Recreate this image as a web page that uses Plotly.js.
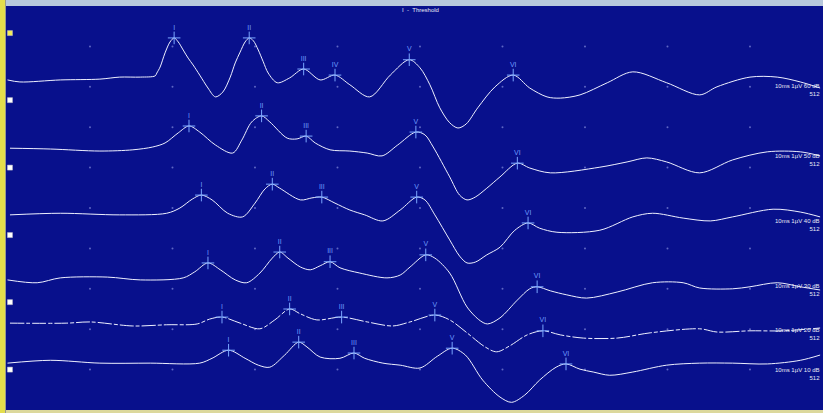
<!DOCTYPE html>
<html>
<head>
<meta charset="utf-8">
<script src="https://cdn.plot.ly/plotly-3.0.1.min.js"></script>
<style>html,body{margin:0;padding:0;background:#b8c8dc;}#chart{width:823px;height:413px;}</style>
</head>
<body>
<div id="chart"></div>
<script>
// ---- data (time in ms, amplitude in µV-like divisions relative to each trace baseline) ----
const levels = ['60', '50', '40', '30', '20', '10'];
const baselines = [8.17, 6.46, 4.85, 3.22, 2.13, 1.16];
const chanSlots = [9.33, 7.67, 6.0, 4.33, 2.67, 1.0];

const t60 = [0,0.15,0.64,1.12,1.36,1.61,1.79,1.81,1.85,1.91,1.97,2.02,2.07,2.13,2.19,2.25,2.33,2.43,2.52,2.61,2.70,2.76,2.82,2.88,2.93,2.98,3.04,3.10,3.16,3.27,3.42,3.59,3.79,3.97,4.15,4.39,4.64,4.87,5.00,5.12,5.24,5.36,5.46,5.56,5.70,5.91,6.13,6.33,6.54,6.70,6.94,7.27,7.58,7.99,8.39,8.60,9.00,9.33,9.61,9.85];
const a60 = [0,-0.05,0,0.02,0.07,0.07,0.10,0.17,0.32,0.67,0.94,1.04,0.94,0.74,0.54,0.37,0.12,-0.20,-0.42,-0.30,0.07,0.42,0.69,0.94,1.04,0.97,0.74,0.45,0.17,-0.07,0.05,0.27,0,0.12,-0.12,-0.42,0.12,0.50,0.30,-0.12,-0.69,-1.06,-1.19,-1.09,-0.69,-0.17,0.12,-0.20,-0.42,-0.45,-0.37,-0.07,0.20,-0.07,-0.37,-0.17,0.07,0.07,-0.05,-0.20];

const t50 = [0.03,0.52,1.12,1.52,1.76,1.91,2.07,2.20,2.33,2.52,2.73,2.84,2.96,3.08,3.18,3.39,3.51,3.62,3.73,3.91,4.15,4.36,4.54,4.73,4.95,5.06,5.16,5.36,5.48,5.57,5.67,5.81,5.97,6.18,6.33,6.58,7.18,7.51,7.75,7.99,8.39,8.79,9.21,9.61,9.85];
const a50 = [0.02,0,-0.05,-0.02,0.05,0.15,0.40,0.57,0.42,0.10,-0.10,0.22,0.67,0.82,0.67,0.27,0.25,0.32,0.15,-0.02,-0.05,-0.10,-0.17,0.10,0.42,0.35,0.05,-0.69,-1.14,-1.26,-1.19,-0.97,-0.69,-0.35,-0.47,-0.59,-0.45,-0.32,-0.22,-0.32,-0.59,-0.27,-0.07,-0.07,-0.17];

const t40 = [0.03,0.64,1.36,1.93,2.09,2.24,2.35,2.48,2.67,2.85,3.00,3.12,3.21,3.30,3.55,3.69,3.81,3.97,4.15,4.33,4.55,4.76,4.96,5.06,5.18,5.36,5.48,5.57,5.67,5.81,5.97,6.15,6.31,6.45,6.66,7.18,7.58,7.82,8.19,8.52,8.79,9.28,9.61,9.85];
const a40 = [-0.02,0.02,-0.02,0.02,0.15,0.37,0.47,0.35,0.02,-0.07,0.27,0.62,0.74,0.64,0.35,0.40,0.42,0.27,0.10,-0.02,-0.17,0.10,0.42,0.35,-0.02,-0.64,-1.04,-1.21,-1.19,-1.01,-0.82,-0.40,-0.22,-0.35,-0.45,-0.40,-0.07,0.02,-0.10,-0.17,-0.07,0.12,0.05,-0.07];

const t30 = [0,0.36,0.64,1.21,1.61,2.13,2.27,2.43,2.58,2.76,2.90,3.06,3.21,3.30,3.40,3.55,3.67,3.79,3.91,4.03,4.27,4.60,4.76,4.88,5.07,5.18,5.36,5.57,5.73,5.82,5.97,6.18,6.33,6.42,6.58,6.78,7.02,7.39,7.82,8.19,8.39,8.79,9.00,9.33,9.61,9.85];
const a30 = [0,-0.07,0.05,0.07,0,0.05,0.20,0.42,0.25,0,-0.07,0.17,0.54,0.69,0.54,0.32,0.25,0.35,0.45,0.30,0.17,0.05,0.12,0.32,0.62,0.54,0.17,-0.67,-1.01,-1.09,-0.94,-0.50,-0.22,-0.17,-0.27,-0.37,-0.45,-0.30,-0.07,-0.07,-0.20,-0.22,-0.17,-0.07,-0.17,-0.25];

const t20 = [0.03,0.72,1.00,1.52,1.93,2.30,2.45,2.60,2.82,3.06,3.24,3.42,3.55,3.75,4.05,4.36,4.67,4.88,5.18,5.36,5.57,5.79,5.93,6.09,6.30,6.49,6.70,6.98,7.39,7.79,8.39,8.60,9.00,9.40,9.85];
const a20 = [0.02,0.02,0.05,-0.05,-0.02,0,0.12,0.17,0.02,-0.12,0.10,0.37,0.25,0.10,0.17,0.05,-0.05,0.05,0.22,0.10,-0.22,-0.57,-0.69,-0.54,-0.27,-0.17,-0.27,-0.35,-0.35,-0.22,-0.12,-0.20,-0.17,-0.17,-0.10];

const t10 = [0,0.52,1.12,1.73,2.33,2.48,2.68,2.88,3.04,3.18,3.36,3.53,3.63,3.79,4.03,4.20,4.33,4.55,4.76,5.00,5.21,5.39,5.55,5.76,5.97,6.11,6.27,6.45,6.65,6.77,6.94,7.10,7.30,7.58,7.99,8.39,8.79,9.21,9.61,9.85];
const a10 = [0,0.07,0,0,0,0.12,0.32,0.12,-0.05,-0.10,0.20,0.52,0.40,0.15,0.12,0.25,0.12,0,-0.05,-0.12,0.17,0.37,0.20,-0.42,-0.84,-0.97,-0.79,-0.42,-0.10,-0.02,-0.15,-0.22,-0.30,-0.22,-0.05,0,0,-0.02,0.07,0.20];

// peak markers (latency ms, amplitude)
const peakLabels60 = ['I','II','III','IV','V','VI'];
const peakT60 = [2.02,2.93,3.59,3.97,4.87,6.13];
const peakA60 = [1.04,1.04,0.27,0.12,0.50,0.12];
const peakLabels = ['I','II','III','V','VI'];
const peakT50 = [2.20,3.08,3.62,4.95,6.18];
const peakA50 = [0.57,0.82,0.32,0.42,-0.35];
const peakT40 = [2.35,3.21,3.81,4.96,6.31];
const peakA40 = [0.47,0.74,0.42,0.42,-0.22];
const peakT30 = [2.43,3.30,3.91,5.07,6.42];
const peakA30 = [0.42,0.69,0.45,0.62,-0.17];
const peakT20 = [2.60,3.42,4.05,5.18,6.49];
const peakA20 = [0.17,0.37,0.17,0.22,-0.17];
const peakT10 = [2.68,3.53,4.20,5.39,6.77];
const peakA10 = [0.32,0.52,0.25,0.37,-0.02];

const gridX = [1,2,3,4,5,6,7,8,9];
const gridY = [1,2,3,4,5,6,7,8,9];

// ---- build ----
const waves = [[t60,a60],[t50,a50],[t40,a40],[t30,a30],[t20,a20],[t10,a10]];
const peaks = [[peakT60,peakA60,peakLabels60],[peakT50,peakA50,peakLabels],[peakT40,peakA40,peakLabels],
               [peakT30,peakA30,peakLabels],[peakT20,peakA20,peakLabels],[peakT10,peakA10,peakLabels]];
const traces = [];

// grid dots
const gx = [], gy = [];
gridX.forEach(x => gridY.forEach(y => { gx.push(x); gy.push(y); }));
traces.push({x: gx, y: gy, mode: 'markers', type: 'scatter', hoverinfo: 'skip',
  marker: {size: 2, color: '#5e66c4'}});

waves.forEach((w, i) => {
  traces.push({
    x: w[0], y: w[1].map(v => v + baselines[i]), type: 'scatter', mode: 'lines',
    line: {color: '#eef0ff', width: 1, shape: 'spline', smoothing: 0.9,
           dash: i === 4 ? '14px,2px,4px,2px' : 'solid'},
    hoverinfo: 'skip'
  });
});

peaks.forEach((p, i) => {
  traces.push({
    x: p[0], y: p[1].map(v => v + baselines[i]), type: 'scatter', mode: 'markers+text',
    text: p[2], textposition: 'top center',
    textfont: {family: 'Liberation Sans, Arial', size: 7, color: '#6e9cff'},
    marker: {symbol: 'cross-thin-open', size: 9, color: '#7aa6ff', line: {color: '#7aa6ff', width: 1}},
    hoverinfo: 'skip'
  });
});

// channel squares on the left
traces.push({
  x: chanSlots.map(() => 0.03), y: chanSlots, type: 'scatter', mode: 'markers',
  marker: {symbol: 'square', size: 5, color: chanSlots.map((_, i) => i === 0 ? '#f2ec5a' : '#ffffff'),
           line: {color: '#c8c8c8', width: 0.5}},
  hoverinfo: 'skip'
});

const annotations = levels.map((lv, i) => ({
  xref: 'paper', yref: 'y', x: 1, y: baselines[i] - 0.26, xanchor: 'right', yanchor: 'middle',
  xshift: -1, align: 'right', showarrow: false,
  text: '10ms 1µV ' + lv + ' dB<br>512',
  font: {family: 'Liberation Sans, Arial', size: 6, color: '#e6e8f4'}
}));
annotations.push({
  xref: 'paper', yref: 'paper', x: 0.482, y: 0.99, xanchor: 'left', yanchor: 'middle',
  showarrow: false, text: 'I  -  Threshold',
  font: {family: 'Liberation Sans, Arial', size: 6, color: '#e6e8f4'}
});

const px = 1 / 817, py = 1 / 404;
const layout = {
  width: 823, height: 413,
  margin: {l: 6, r: 0, t: 6, b: 3, pad: 0},
  paper_bgcolor: '#b8c8dc', plot_bgcolor: '#08108c',
  showlegend: false,
  xaxis: {range: [-0.018, 9.885], showgrid: false, zeroline: false, showticklabels: false,
          ticks: '', showline: false, fixedrange: true},
  yaxis: {range: [0, 10], showgrid: false, zeroline: false, showticklabels: false,
          ticks: '', showline: false, fixedrange: true},
  annotations: annotations,
  shapes: [
    {type: 'rect', xref: 'paper', yref: 'paper', x0: -6 * px, x1: -1 * px, y0: -3 * py, y1: 1 + 6 * py,
     fillcolor: '#e4de4c', line: {width: 0}, layer: 'above'},
    {type: 'rect', xref: 'paper', yref: 'paper', x0: -1 * px, x1: 0, y0: -3 * py, y1: 1 + 6 * py,
     fillcolor: '#9a9a8a', line: {width: 0}, layer: 'above'},
    {type: 'rect', xref: 'paper', yref: 'paper', x0: 0, x1: 1, y0: -3 * py, y1: 0,
     fillcolor: '#dcd89c', line: {width: 0}, layer: 'above'}
  ]
};

Plotly.newPlot('chart', traces, layout, {staticPlot: true, displayModeBar: false});
</script>
</body>
</html>
